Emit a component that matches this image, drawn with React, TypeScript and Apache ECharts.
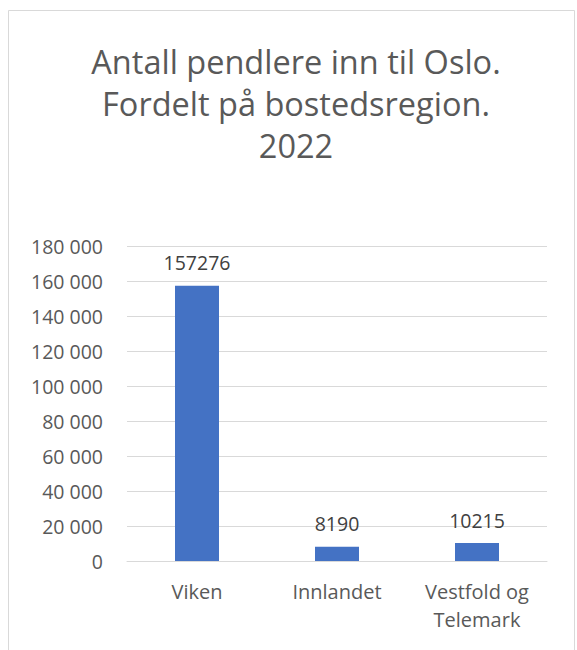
import React, { useEffect, useRef } from "react";
import * as echarts from "echarts";

const categories = ["Viken", "Innlandet", "Vestfold og\nTelemark"];
const values = [157276, 8190, 10215];
const titleLines = ["Antall pendlere inn til Oslo.", "Fordelt på bostedsregion.", "2022"];
const yMin = 0;
const yMax = 180000;
const yStep = 20000;

const FONT = "'Open Sans', Lato, sans-serif";

function fmt(v: number): string {
  return String(v).replace(/\B(?=(\d{3})+(?!\d))/g, " ");
}

export default function App() {
  const ref = useRef<HTMLDivElement>(null);
  useEffect(() => {
    if (!ref.current) return;
    const chart = echarts.init(ref.current, null, { renderer: "svg" });
    chart.setOption({
      animation: false,
      backgroundColor: "#ffffff",
      graphic: [
        {
          type: "rect",
          shape: { x: 8.5, y: 10.5, width: 566, height: 700 },
          style: { fill: "none", stroke: "#d9d9d9", lineWidth: 1 },
          silent: true,
          z: -1,
        },
      ],
      title: {
        text: titleLines.join("\n"),
        left: 291,
        textAlign: "center",
        top: 35,
        textStyle: {
          fontFamily: FONT,
          fontSize: 32.5,
          fontWeight: "normal",
          color: "#595959",
          lineHeight: 42,
        },
      },
      grid: { left: 127, right: 30, top: 246, bottom: 89 },
      xAxis: {
        type: "category",
        data: categories,
        axisLine: { show: true, lineStyle: { color: "#d9d9d9", width: 1 } },
        axisTick: { show: false },
        axisLabel: {
          color: "#595959",
          fontFamily: FONT,
          fontSize: 20,
          lineHeight: 28,
          margin: 16,
          interval: 0,
        },
      },
      yAxis: {
        type: "value",
        min: yMin,
        max: yMax,
        interval: yStep,
        axisLine: { show: false },
        axisTick: { show: false },
        splitLine: { lineStyle: { color: "#d9d9d9", width: 1 } },
        axisLabel: {
          color: "#595959",
          fontFamily: FONT,
          fontSize: 19.5,
          margin: 24,
          formatter: (v: number) => fmt(v),
        },
      },
      series: [
        {
          type: "bar",
          data: values,
          barWidth: 44,
          itemStyle: { color: "#4472C4" },
          label: {
            show: true,
            position: "top",
            distance: 13,
            color: "#404040",
            fontFamily: FONT,
            fontSize: 19.5,
          },
        },
      ],
    });
    return () => chart.dispose();
  }, []);
  return (
    <div
      ref={ref}
      style={{ position: "fixed", left: 0, top: 0, width: 577, height: 650 }}
    />
  );
}
